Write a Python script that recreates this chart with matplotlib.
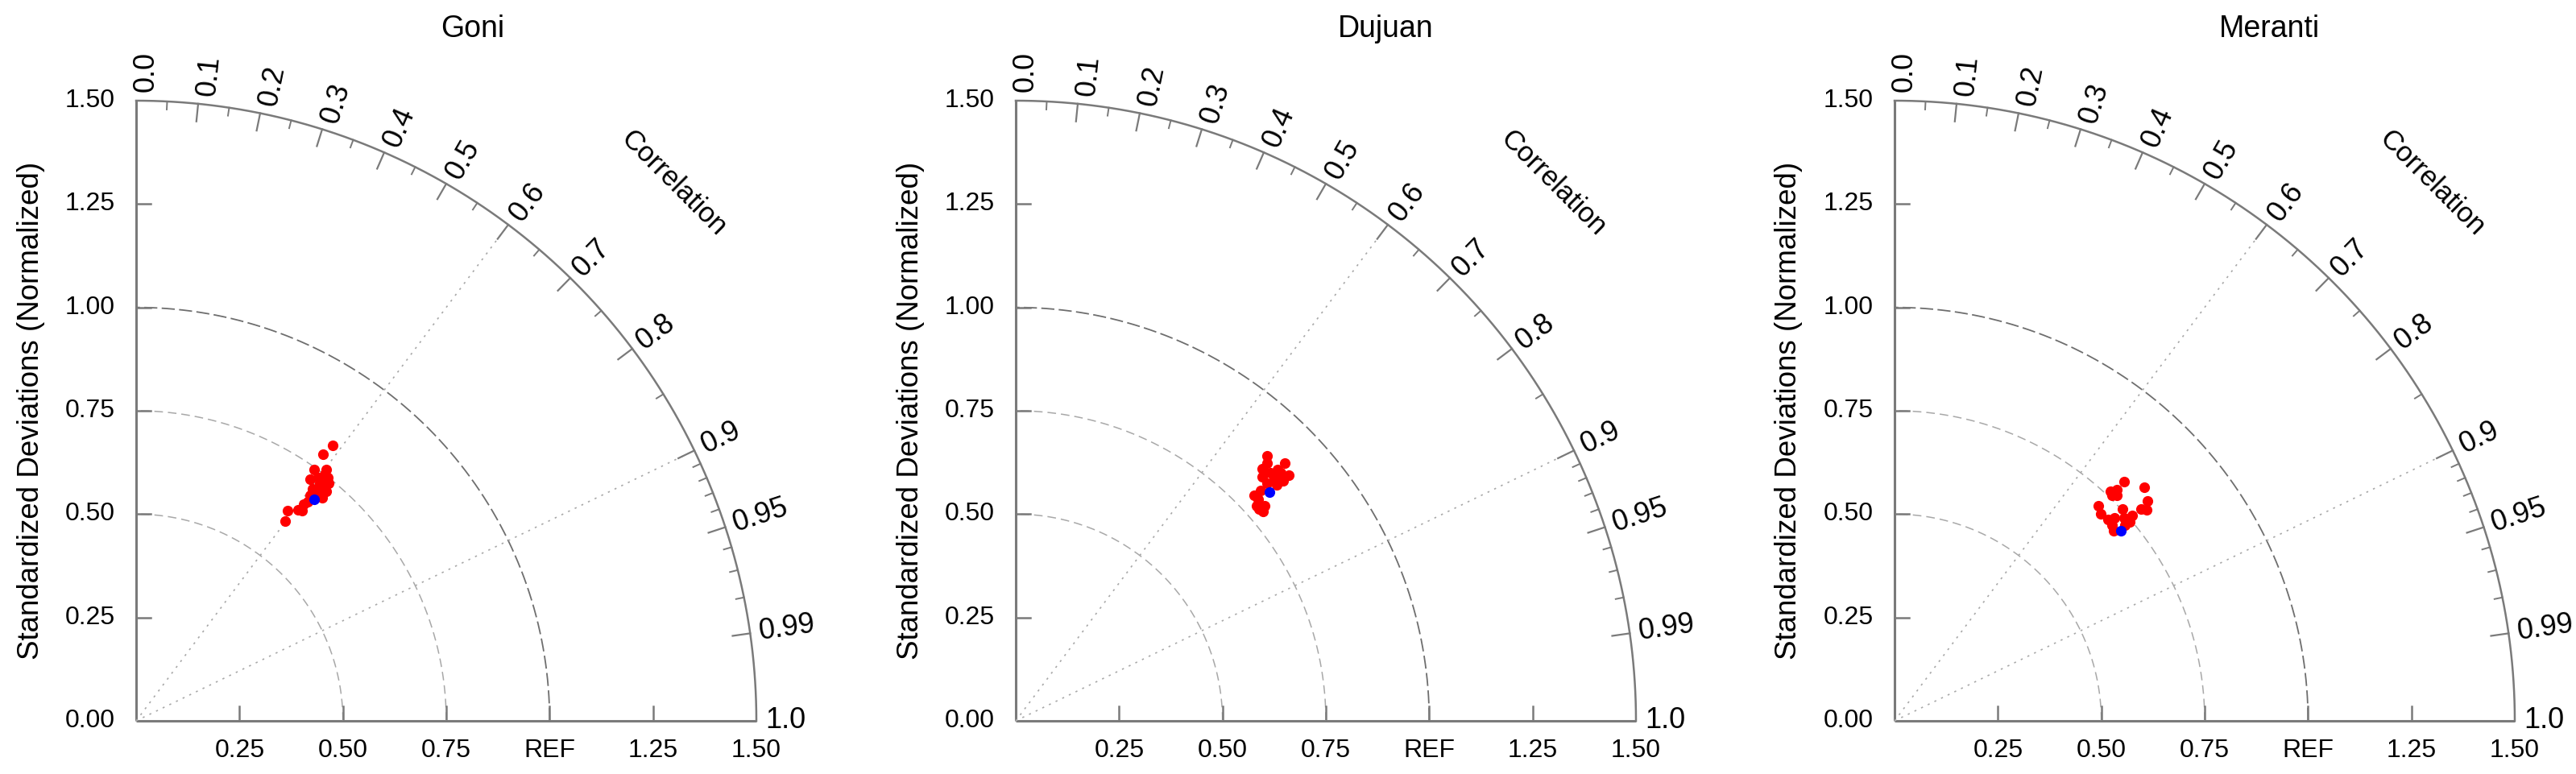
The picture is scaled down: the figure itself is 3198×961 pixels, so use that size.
import numpy as np
import matplotlib
matplotlib.use('Agg')
import matplotlib.pyplot as plt

plt.rcParams['font.family'] = ['Liberation Sans', 'DejaVu Sans']

# ---------------- data (normalized std-dev plane: x = sigma*R, y = sigma*sqrt(1-R^2)) -------------
titles = ['Goni', 'Dujuan', 'Meranti']

goni_x = [0.475, 0.451, 0.431, 0.460, 0.421, 0.440, 0.463, 0.456, 0.427, 0.460,
          0.414, 0.392, 0.401, 0.366, 0.360, 0.445, 0.455, 0.435, 0.420, 0.465,
          0.448, 0.405, 0.450]
goni_y = [0.666, 0.645, 0.608, 0.608, 0.584, 0.588, 0.588, 0.569, 0.561, 0.555,
          0.530, 0.511, 0.508, 0.508, 0.483, 0.575, 0.597, 0.550, 0.545, 0.575,
          0.560, 0.525, 0.540]
goni_ref_x = [0.431]
goni_ref_y = [0.536]

dujuan_x = [0.608, 0.608, 0.651, 0.596, 0.634, 0.660, 0.596, 0.625, 0.647, 0.608,
            0.631, 0.592, 0.576, 0.586, 0.582, 0.602, 0.599, 0.589, 0.615, 0.640]
dujuan_y = [0.640, 0.623, 0.623, 0.610, 0.607, 0.594, 0.591, 0.588, 0.581, 0.575,
            0.571, 0.558, 0.545, 0.536, 0.520, 0.520, 0.507, 0.513, 0.600, 0.600]
dujuan_ref_x = [0.614]
dujuan_ref_y = [0.553]

meranti_x = [0.556, 0.603, 0.522, 0.538, 0.525, 0.538, 0.612, 0.493, 0.551, 0.597,
             0.610, 0.499, 0.574, 0.516, 0.532, 0.555, 0.568, 0.525, 0.529, 0.558]
meranti_y = [0.578, 0.565, 0.555, 0.559, 0.545, 0.545, 0.532, 0.520, 0.513, 0.513,
             0.510, 0.500, 0.497, 0.487, 0.490, 0.490, 0.481, 0.474, 0.459, 0.474]
meranti_ref_x = [0.548]
meranti_ref_y = [0.460]

std_ticks = [0.0, 0.25, 0.5, 0.75, 1.0, 1.25, 1.5]
y_tick_labels = ['0.00', '0.25', '0.50', '0.75', '1.00', '1.25', '1.50']
x_tick_labels = ['', '0.25', '0.50', '0.75', 'REF', '1.25', '1.50']
corr_labels = [0.0, 0.1, 0.2, 0.3, 0.4, 0.5, 0.6, 0.7, 0.8, 0.9, 0.95, 0.99, 1.0]
corr_label_text = ['0.0', '0.1', '0.2', '0.3', '0.4', '0.5', '0.6', '0.7', '0.8', '0.9',
                   '0.95', '0.99', '1.0']
corr_major = [0.1, 0.2, 0.3, 0.4, 0.5, 0.6, 0.7, 0.8, 0.9, 0.95, 0.99]
corr_minor = [0.05, 0.15, 0.25, 0.35, 0.45, 0.55, 0.65, 0.75, 0.85,
              0.91, 0.92, 0.93, 0.94, 0.96, 0.97, 0.98]
corr_rays = [0.6, 0.9]
std_arcs = [0.5, 0.75]
ref_std = 1.0

panels = [
    (goni_x, goni_y, goni_ref_x, goni_ref_y),
    (dujuan_x, dujuan_y, dujuan_ref_x, dujuan_ref_y),
    (meranti_x, meranti_y, meranti_ref_x, meranti_ref_y),
]

# ---------------- layout ----------------
W, H = 3198, 961
fig = plt.figure(figsize=(W / 100, H / 100), dpi=100)
origins_px = [169, 1261, 2352]
title_off_px = [418, 459, 465]
R_PX = 770
RMAX = 1.5
PX = RMAX / R_PX  # data units per pixel

AX_COL = '#7a7a7a'
FS = 23
FS_CORR = 26

for ox, toff, title, (rx, ry, bx, by) in zip(origins_px, title_off_px, titles, panels):
    ax = fig.add_axes([ox / W, (H - 895) / H, R_PX / W, R_PX / H])
    ax.set_xlim(0, RMAX)
    ax.set_ylim(0, RMAX)
    ax.axis('off')

    th = np.linspace(0, np.pi / 2, 400)
    # axes
    ax.plot([0, 0], [0, RMAX], color=AX_COL, lw=2.2, clip_on=False, solid_capstyle='butt')
    ax.plot([0, RMAX], [0, 0], color=AX_COL, lw=2.2, clip_on=False, solid_capstyle='butt')
    ax.plot(RMAX * np.cos(th), RMAX * np.sin(th), color=AX_COL, lw=1.8, clip_on=False)

    # std arcs
    for r in std_arcs:
        ax.plot(r * np.cos(th), r * np.sin(th), color='#a8a8a8', lw=1.1,
                linestyle=(0, (7, 4)), clip_on=False)
    ax.plot(ref_std * np.cos(th), ref_std * np.sin(th), color='#6e6e6e', lw=1.3,
            linestyle=(0, (9, 3)), clip_on=False)

    # correlation rays
    for c in corr_rays:
        a = np.arccos(c)
        ax.plot([0, RMAX * np.cos(a)], [0, RMAX * np.sin(a)], color='#a8a8a8', lw=1.2,
                linestyle=(0, (1.5, 4)), clip_on=False)

    # std ticks (inward)
    tl = 18 * PX
    for v in std_ticks[1:-1]:
        ax.plot([0, tl], [v, v], color=AX_COL, lw=1.8, clip_on=False)
        ax.plot([v, v], [0, tl], color=AX_COL, lw=1.8, clip_on=False)
    for v, lab in zip(std_ticks, y_tick_labels):
        ax.text(-26 * PX, v, lab, ha='right', va='center', fontsize=FS, clip_on=False)
    for v, lab in zip(std_ticks, x_tick_labels):
        if lab:
            ax.text(v, -37 * PX, lab, ha='center', va='center', fontsize=FS, clip_on=False)

    # correlation ticks
    for c in corr_major:
        a = np.arccos(c)
        r0 = RMAX - 22 * PX
        ax.plot([r0 * np.cos(a), RMAX * np.cos(a)], [r0 * np.sin(a), RMAX * np.sin(a)],
                color=AX_COL, lw=1.6, clip_on=False)
    for c in corr_minor:
        a = np.arccos(c)
        r0 = RMAX - 10 * PX
        ax.plot([r0 * np.cos(a), RMAX * np.cos(a)], [r0 * np.sin(a), RMAX * np.sin(a)],
                color=AX_COL, lw=1.4, clip_on=False)

    # correlation labels
    for c, lab in zip(corr_labels, corr_label_text):
        a = np.arccos(c)
        deg = np.degrees(a)
        rr = RMAX + 11 * PX
        off = 12 * PX * (deg / 90.0) ** 3
        x = rr * np.cos(a) + off * np.sin(a)
        y = rr * np.sin(a) - off * np.cos(a)
        ax.text(x, y, lab, rotation=deg, rotation_mode='anchor', ha='left', va='center',
                fontsize=FS_CORR, clip_on=False)

    ax.text(1.30, 1.30, 'Correlation', rotation=-45, ha='center', va='center',
            fontsize=25, clip_on=False)
    ax.text(-131 * PX, 0.75, 'Standardized Deviations (Normalized)', rotation=90,
            ha='center', va='center', fontsize=26.5, clip_on=False)

    # points
    ax.plot(rx, ry, 'o', color='#ff0000', ms=9.5, mec='none', clip_on=False)
    ax.plot(bx, by, 'o', color='#0000ff', ms=9.5, mec='none', clip_on=False)

    fig.text((ox + toff) / W, 1 - 46 / H, title, ha='center', va='baseline', fontsize=27)

fig.savefig('out.png', dpi=100, facecolor='white')
